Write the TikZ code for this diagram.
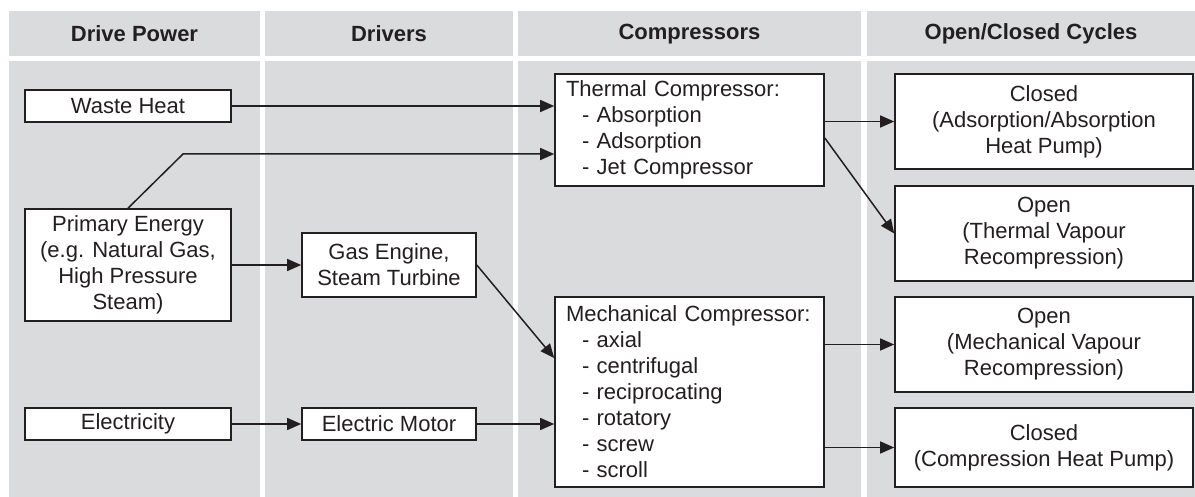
\documentclass[tikz,border=0pt]{standalone}
\usepackage{fontspec}
\setmainfont{Liberation Sans}
\usetikzlibrary{arrows.meta,calc}
\definecolor{bggray}{RGB}{218,219,221}
\definecolor{linec}{RGB}{35,31,32}
\newcommand\mysize{\fontsize{22}{26}\selectfont}
\tikzset{
  colbg/.style={fill=bggray, draw=none},
  box/.style={draw=linec, fill=white, line width=1.6pt, inner sep=0pt, align=center, font=\mysize, text=linec},
  lbox/.style={box, align=left, inner xsep=11pt},
  hdr/.style={font=\mysize\bfseries, text=linec, inner sep=0pt},
  conn/.style={draw=linec, line width=1.5pt, -{Triangle[length=14pt,width=12pt]}},
}
\begin{document}
\begin{tikzpicture}[x=1pt,y=-1pt]
\useasboundingbox (0,0) rectangle (1195,497);
\fill[white] (0,0) rectangle (1195,497);
% column backgrounds
\path[colbg] (9,11) rectangle (260,56);
\path[colbg] (265,11) rectangle (513,56);
\path[colbg] (518,11) rectangle (861,56);
\path[colbg] (867,11) rectangle (1195,56);
\path[colbg] (9,61) rectangle (260,497);
\path[colbg] (265,61) rectangle (513,497);
\path[colbg] (518,61) rectangle (861,497);
\path[colbg] (867,61) rectangle (1195,497);
% headers
\node[hdr] (h1) at (134.5,34) {Drive Power};
\node[hdr] (h2) at (389,34) {Drivers};
\node[hdr] (h3) at (689.5,34) {Compressors};
\node[hdr] (h4) at (1031,34) {Open/Closed Cycles};
% boxes
\node[box, minimum width=206pt, minimum height=32pt] (waste) at (128,106) {Waste Heat};
\node[box, minimum width=206pt, minimum height=112pt] (primary) at (128,265) {Primary Energy\\(e.g. Natural Gas,\\High Pressure\\Steam)};
\node[box, minimum width=206pt, minimum height=32pt] (elec) at (128,424) {Electricity};
\node[box, minimum width=174pt, minimum height=64pt] (gas) at (389,265) {Gas Engine,\\Steam Turbine};
\node[box, minimum width=174pt, minimum height=32pt] (motor) at (389,424) {Electric Motor};
\node[lbox, text width=247pt, minimum height=112pt] (thermal) at (689.5,130) {Thermal Compressor:\\\hspace*{16pt}- Absorption\\\hspace*{16pt}- Adsorption\\\hspace*{16pt}- Jet Compressor};
\node[lbox, text width=247pt, minimum height=190pt] (mech) at (689.5,392) {Mechanical Compressor:\\\hspace*{16pt}- axial\\\hspace*{16pt}- centrifugal\\\hspace*{16pt}- reciprocating\\\hspace*{16pt}- rotatory\\\hspace*{16pt}- screw\\\hspace*{16pt}- scroll};
\node[box, minimum width=298pt, minimum height=95pt] (c1) at (1044,121.5) {Closed\\(Adsorption/Absorption\\Heat Pump)};
\node[box, minimum width=298pt, minimum height=95pt] (o1) at (1044,233.5) {Open\\(Thermal Vapour\\Recompression)};
\node[box, minimum width=298pt, minimum height=95pt] (o2) at (1044,344.5) {Open\\(Mechanical Vapour\\Recompression)};
\node[box, minimum width=298pt, minimum height=79pt] (c2) at (1044,447.5) {Closed\\(Compression Heat Pump)};
% connectors
\coordinate (bend) at (183,154);
\draw[conn] (waste.east) -- (waste.east -| thermal.west);
\draw[conn] (primary.north) -- (bend) -- (bend -| thermal.west);
\draw[conn] (primary.east) -- (gas.west);
\draw[conn] (gas.east) -- ([yshift=34pt]mech.west);
\draw[conn] (elec.east) -- (motor.west);
\draw[conn] (motor.east) -- (motor.east -| mech.west);
\draw[conn] (c1.west -| thermal.east) -- (c1.west);
\draw[conn] ([yshift=-8pt]thermal.east) -- (o1.west);
\draw[conn] (o2.west -| mech.east) -- (o2.west);
\draw[conn] (c2.west -| mech.east) -- (c2.west);
\end{tikzpicture}
\end{document}
